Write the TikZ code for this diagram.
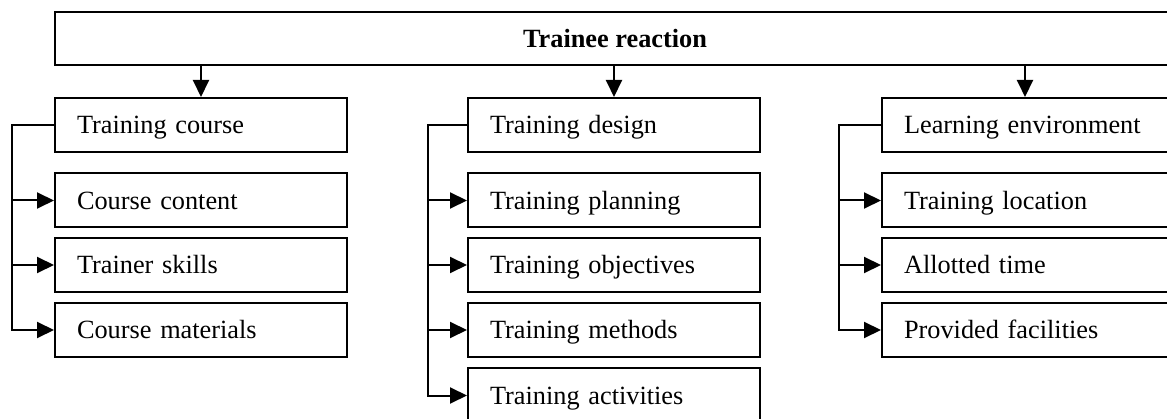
\documentclass[tikz,border=0pt]{standalone}
\usepackage{fontspec}
\setmainfont{Liberation Serif}
\usetikzlibrary{arrows.meta}
\begin{document}
\begin{tikzpicture}[x=1pt,y=-1pt,
  box/.style={draw, line width=2pt, minimum height=54pt, text width=248pt,
    text height=18pt, text depth=0pt,
    inner xsep=22pt, inner ysep=0pt, align=left,
    font=\fontsize{26.3}{30}\selectfont},
  head/.style={draw, line width=2pt, minimum width=1120pt, minimum height=53pt,
    text height=18pt, text depth=0pt,
    inner sep=0pt, font=\fontsize{26.3}{30}\selectfont\bfseries},
  link/.style={line width=2pt, -{Triangle[length=17pt,width=16pt]}}]
\useasboundingbox (0,0) rectangle (1167,419);

% top level
\node[head] (top) at (615,38.5) {Trainee reaction};

% first column
\node[box] (c1)  at (201,125)   {Training course};
\node[box] (c1a) at (201,200.5) {Course content};
\node[box] (c1b) at (201,265)   {Trainer skills};
\node[box] (c1c) at (201,330)   {Course materials};

% second column
\node[box] (c2)  at (614,125)   {Training design};
\node[box] (c2a) at (614,200.5) {Training planning};
\node[box] (c2b) at (614,265)   {Training objectives};
\node[box] (c2c) at (614,330)   {Training methods};
\node[box] (c2d) at (614,395.5) {Training activities};

% third column
\node[box] (c3)  at (1028,125)   {Learning environment};
\node[box] (c3a) at (1028,200.5) {Training location};
\node[box] (c3b) at (1028,265)   {Allotted time};
\node[box] (c3c) at (1028,330)   {Provided facilities};

% arrows from the top box
\draw[link] (top.south -| c1.north) -- (c1.north);
\draw[link] (top.south -| c2.north) -- (c2.north);
\draw[link] ([xshift=-3pt]top.south -| c3.north) -- ([xshift=-3pt]c3.north);

% side feeds
\foreach \h/\k in {c1/c1a,c1/c1b,c1/c1c}
  \draw[link] (\h.west) -- ([xshift=-42pt]\h.west) |- (\k.west);
\foreach \h/\k in {c2/c2a,c2/c2b,c2/c2c,c2/c2d}
  \draw[link] (\h.west) -- ([xshift=-39pt]\h.west) |- (\k.west);
\foreach \h/\k in {c3/c3a,c3/c3b,c3/c3c}
  \draw[link] (\h.west) -- ([xshift=-42pt]\h.west) |- (\k.west);
\end{tikzpicture}
\end{document}
